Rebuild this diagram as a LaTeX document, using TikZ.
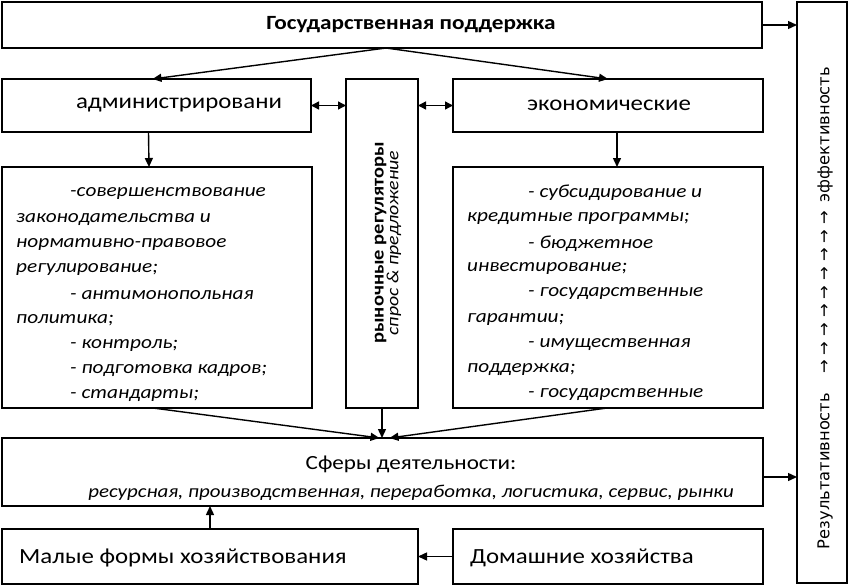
\documentclass[tikz,border=0pt]{standalone}
\usepackage{fontspec}
\setmainfont{Carlito}[FakeStretch=1.15]
\newfontfamily\dv{DejaVu Sans}
\usetikzlibrary{arrows.meta,calc}
\newcommand{\upar}{→\hspace{5pt}}
\begin{document}
\begin{tikzpicture}[x=1pt,y=-1pt,
  box/.style={draw,line width=1.5pt,rectangle,inner sep=0pt,outer sep=0pt},
  conn/.style={line width=1.4pt,-{Triangle[length=9pt,width=8pt]}},
  dconn/.style={line width=1.4pt,{Triangle[length=8pt,width=8pt]}-{Triangle[length=8pt,width=8pt]}},
  lt/.style={inner sep=0pt,anchor=west,font=\fontsize{18.5}{20}\selectfont\itshape},
  big/.style={inner sep=0pt,font=\fontsize{21.6}{24}\selectfont}]
\useasboundingbox (0,0) rectangle (849,586);
% boxes
\node[box,minimum width=760pt,minimum height=46pt] (gos) at (382,25) {};
\node[box,minimum width=50pt,minimum height=581pt] (res) at (822,292.5) {};
\node[box,minimum width=309pt,minimum height=53pt] (adm) at (156.5,105.5) {};
\node[box,minimum width=72pt,minimum height=329pt] (mid) at (382,243.5) {};
\node[box,minimum width=310pt,minimum height=53pt] (eco) at (608,105.5) {};
\node[box,minimum width=310pt,minimum height=241pt] (admlist) at (157,287.5) {};
\node[box,minimum width=310pt,minimum height=241pt] (ecolist) at (608,287.5) {};
\node[box,minimum width=761pt,minimum height=68pt] (sfery) at (382.5,472) {};
\node[box,minimum width=416pt,minimum height=55pt] (malye) at (210,556.5) {};
\node[box,minimum width=310pt,minimum height=55pt] (dom) at (608,556.5) {};
% texts
\node[inner sep=0pt,font=\fontsize{20.2}{22}\selectfont\bfseries] (tgos) at (411,25) {Государственная поддержка};
\node[big] (tadm) at (179,105) {администрировани};
\node[big] (teco) at (609,105) {экономические};
\node[inner sep=0pt,font=\fontsize{20.1}{22}\selectfont] (tsf) at (411,464) {Сферы деятельности:};
\node[inner sep=0pt,font=\fontsize{18.2}{20}\selectfont\itshape] (tsf2) at (411,493) {ресурсная, производственная, переработка, логистика, сервис, рынки};
\node[big,anchor=west] (tmal) at (19,558) {Малые формы хозяйствования};
\node[big,anchor=west] (tdom) at (470,558) {Домашние хозяйства};
\node[inner sep=0pt,rotate=90,align=center] (tmid) at (388,243)
  {{\fontsize{17.8}{20}\selectfont\bfseries рыночные регуляторы}\\[-1pt]{\fontsize{17.2}{20}\selectfont\itshape спрос \& предложение}};
\node[inner sep=0pt,rotate=90,font=\dv\fontsize{16.3}{18}\selectfont] (tres) at (825,308)
  {Результативность\hspace{19pt}\upar\upar\upar\upar\upar\upar\upar\upar→\hspace{9pt}эффективность};
% lists
\begin{scope}
\clip (3,168) rectangle (311,407);
\node[lt] (l1) at (70,194) {-совершенствование};
\node[lt] (l2) at (16,219.25) {законодательства и};
\node[lt] (l3) at (16,244.5) {нормативно-правовое};
\node[lt] (l4) at (16,269.75) {регулирование;};
\node[lt] (l5) at (70,295) {- антимонопольная};
\node[lt] (l6) at (16,320.25) {политика;};
\node[lt] (l7) at (70,345.5) {- контроль;};
\node[lt] (l8) at (70,370.75) {- подготовка кадров;};
\node[lt] (l9) at (70,396) {- стандарты;};
\end{scope}
\begin{scope}
\clip (454,168) rectangle (762,407);
\node[lt] (e1) at (528,193) {- субсидирование и};
\node[lt] (e2) at (467,218.25) {кредитные программы;};
\node[lt] (e3) at (528,243.5) {- бюджетное};
\node[lt] (e4) at (467,268.75) {инвестирование;};
\node[lt] (e5) at (528,294) {- государственные};
\node[lt] (e6) at (467,319.25) {гарантии;};
\node[lt] (e7) at (528,344.5) {- имущественная};
\node[lt] (e8) at (467,369.75) {поддержка;};
\node[lt] (e9) at (528,395) {- государственные};
\end{scope}
% connectors
\coordinate (se) at ($(sfery.east)+(0,5)$);
\coordinate (gs) at ($(gos.south)+(4,0)$);
\draw[conn] (gos.east) -- (gos.east -| res.west);
\draw[conn] (se) -- (se -| res.west);
\draw[conn] (gs) -- ($(adm.north)+(-4,0)$);
\draw[conn] (gs) -- (eco.north);
\draw[dconn] (adm.east) -- (adm.east -| mid.west);
\draw[dconn] (eco.west -| mid.east) -- (eco.west);
\draw[conn] ($(adm.south)+(-8,0)$) -- ($(admlist.north)+(-8,0)$);
\draw[conn] ($(eco.south)+(9,0)$) -- ($(ecolist.north)+(9,0)$);
\draw[conn] ($(admlist.south)+(-4,0)$) -- ($(sfery.north)+(-3,0)$);
\draw[conn] (mid.south) -- (mid.south |- sfery.north);
\draw[conn] ($(ecolist.south)+(-1,0)$) -- ($(sfery.north)+(7,0)$);
\draw[conn] (dom.west) -- (malye.east);
\draw[conn] (malye.north) -- (malye.north |- sfery.south);
\end{tikzpicture}
\end{document}
